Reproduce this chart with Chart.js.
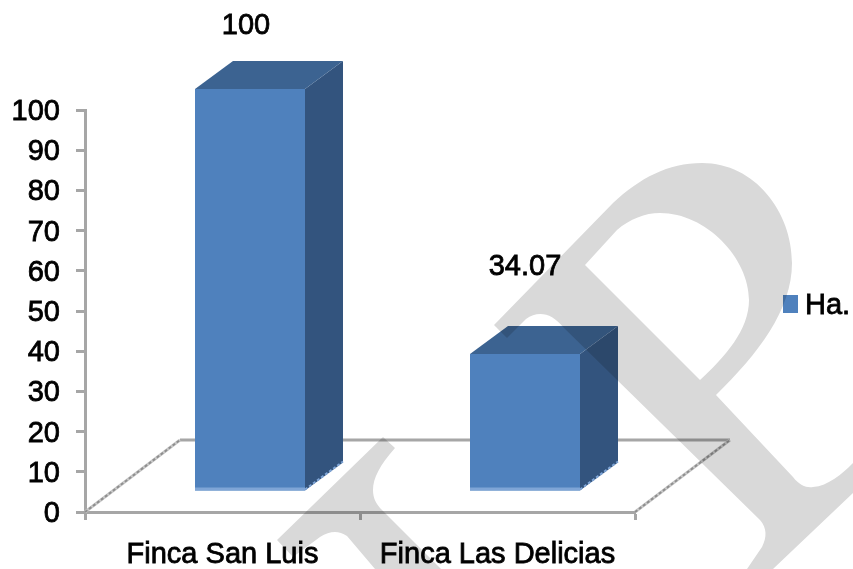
<!DOCTYPE html>
<html>
<head>
<meta charset="utf-8">
<style>
  html, body { margin: 0; padding: 0; background: #fff; }
  #wrap { width: 853px; height: 569px; }
</style>
<script src="https://cdn.jsdelivr.net/npm/chart.js@4"></script>
</head>
<body>
<div id="wrap"><canvas id="chart" width="853" height="569"></canvas></div>
<script>
// ===== data =====
const categories = ['Finca San Luis', 'Finca Las Delicias'];
const seriesName = 'Ha.';
const hectares = [100, 34.07];
const valueLabels = ['100', '34.07'];
const yMin = 0;
const yMax = 100;
const yStep = 10;

// ===== look =====
const FONT = { family: '"Liberation Sans", Arial, sans-serif', size: 29 };
const FONT_CSS = '29px ' + FONT.family;
const TEXT_STROKE = 0.8;   // the original text is a bit heavier than regular
const AXIS = '#a6a6a6';
const FRONT = '#4f81bd';
const TOP = '#3c6391';
const SIDE = '#33547e';
const STRIP = '#7fa5d6';
const SHIFT = { x: 27.5, y: -21 };   // bar front sits inside the floor
const BAR_DEPTH = { x: 38, y: -28 };
const FLOOR_DEPTH = { x: 95, y: -72 };
const LABEL_OFFSET = [{ x: 23.5, y: -84 }, { x: 27.5, y: -108 }];

function heavyText(ctx, text, x, y) {
  ctx.fillStyle = '#000';
  ctx.strokeStyle = '#000';
  ctx.lineWidth = TEXT_STROKE;
  ctx.font = FONT_CSS;
  ctx.textBaseline = 'middle';
  ctx.strokeText(text, x, y);
  ctx.fillText(text, x, y);
}

function drawFloor(chart) {
  const { ctx, chartArea: a } = chart;
  const l = a.left, r = a.right, b = a.bottom;
  ctx.save();
  ctx.lineWidth = 3;
  ctx.strokeStyle = AXIS;
  ctx.beginPath();
  ctx.moveTo(l + FLOOR_DEPTH.x, b + FLOOR_DEPTH.y);
  ctx.lineTo(r + FLOOR_DEPTH.x, b + FLOOR_DEPTH.y);
  ctx.stroke();
  [l, r].forEach(x => {
    ctx.strokeStyle = '#c8c8c8';
    ctx.lineWidth = 3;
    ctx.beginPath();
    ctx.moveTo(x, b);
    ctx.lineTo(x + FLOOR_DEPTH.x, b + FLOOR_DEPTH.y);
    ctx.stroke();
    ctx.strokeStyle = '#8f8f8f';
    ctx.lineWidth = 2;
    ctx.setLineDash([3, 2]);
    ctx.beginPath();
    ctx.moveTo(x, b);
    ctx.lineTo(x + FLOOR_DEPTH.x, b + FLOOR_DEPTH.y);
    ctx.stroke();
    ctx.setLineDash([]);
  });
  ctx.restore();
}

// side + top faces, then the library's bar is drawn shifted on top of them
const box3d = {
  id: 'box3d',
  beforeDatasetsDraw(chart) {
    drawFloor(chart);
  },
  beforeDatasetDraw(chart) {
    const { ctx } = chart;
    ctx.save();
    ctx.translate(SHIFT.x, SHIFT.y);
    chart.getDatasetMeta(0).data.forEach(bar => {
      const left = bar.x - bar.width / 2, right = bar.x + bar.width / 2;
      const dx = BAR_DEPTH.x, dy = BAR_DEPTH.y;
      ctx.fillStyle = SIDE;
      ctx.beginPath();
      ctx.moveTo(right, bar.y);
      ctx.lineTo(right + dx, bar.y + dy);
      ctx.lineTo(right + dx, bar.base + dy);
      ctx.lineTo(right, bar.base);
      ctx.closePath();
      ctx.fill();
      ctx.fillStyle = TOP;
      ctx.beginPath();
      ctx.moveTo(left, bar.y);
      ctx.lineTo(left + dx, bar.y + dy);
      ctx.lineTo(right + dx, bar.y + dy);
      ctx.lineTo(right, bar.y);
      ctx.closePath();
      ctx.fill();
      ctx.strokeStyle = STRIP;
      ctx.lineWidth = 2;
      ctx.setLineDash([3, 2]);
      ctx.beginPath();
      ctx.moveTo(right, bar.base - 1);
      ctx.lineTo(right + dx, bar.base + dy - 1);
      ctx.stroke();
      ctx.setLineDash([]);
    });
  },
  afterDatasetDraw(chart) {
    const { ctx } = chart;
    chart.getDatasetMeta(0).data.forEach(bar => {
      ctx.fillStyle = STRIP;
      ctx.fillRect(bar.x - bar.width / 2, bar.base - 3, bar.width, 3);
    });
    ctx.restore();
    ctx.save();
    ctx.textAlign = 'center';
    chart.getDatasetMeta(0).data.forEach((bar, i) => {
      heavyText(ctx, valueLabels[i], bar.x + LABEL_OFFSET[i].x, bar.y + LABEL_OFFSET[i].y);
    });
    ctx.restore();
  }
};

// legend: swatch and name in the free space right of the floor
const sideLegend = {
  id: 'sideLegend',
  afterDatasetsDraw(chart) {
    const { ctx } = chart;
    const ds = chart.data.datasets[0];
    ctx.save();
    ctx.fillStyle = ds.backgroundColor;
    ctx.fillRect(783, 295, 15, 18);
    ctx.textAlign = 'left';
    heavyText(ctx, ds.label, 805, 306);
    ctx.restore();
  }
};

// grey stamp laid over the whole picture
const stamp = {
  id: 'stamp',
  afterDraw(chart) {
    const { ctx } = chart;
    ctx.save();
    ctx.globalCompositeOperation = 'multiply';
    ctx.fillStyle = '#d9d9d9';
    ctx.beginPath();
    ctx.moveTo(494, 325);
    ctx.lineTo(613, 203);
    ctx.bezierCurveTo(640, 178, 668, 163, 702, 163);
    ctx.bezierCurveTo(755, 163, 792, 212, 792, 263);
    ctx.bezierCurveTo(792, 310, 758, 354, 716, 395);
    ctx.lineTo(793, 477);
    ctx.bezierCurveTo(800, 486, 807, 488, 813, 487);
    ctx.bezierCurveTo(828, 486, 842, 474, 853, 463);
    ctx.lineTo(853, 493);
    ctx.lineTo(773, 569);
    ctx.lineTo(747, 569);
    ctx.lineTo(762, 547);
    ctx.bezierCurveTo(767, 537, 767, 528, 760, 520);
    ctx.lineTo(563, 327);
    ctx.bezierCurveTo(552, 313, 538, 310, 526, 319);
    ctx.lineTo(507, 338);
    ctx.closePath();
    ctx.moveTo(585, 265);
    ctx.lineTo(617, 230);
    ctx.bezierCurveTo(630, 219, 645, 213, 660, 213);
    ctx.bezierCurveTo(706, 213, 749, 258, 749, 300);
    ctx.bezierCurveTo(749, 330, 725, 357, 700, 380);
    ctx.closePath();
    ctx.fill('evenodd');
    ctx.beginPath();
    ctx.moveTo(277, 540);
    ctx.lineTo(383, 437);
    ctx.lineTo(395, 448);
    ctx.bezierCurveTo(380, 465, 373, 478, 373, 490);
    ctx.bezierCurveTo(373, 498, 376, 503, 380, 508);
    ctx.lineTo(441, 569);
    ctx.lineTo(375, 569);
    ctx.lineTo(347, 536);
    ctx.bezierCurveTo(338, 530, 330, 531, 320, 537);
    ctx.lineTo(293, 557);
    ctx.closePath();
    ctx.fill();
    ctx.restore();
  }
};

new Chart(document.getElementById('chart'), {
  type: 'bar',
  data: {
    labels: categories,
    datasets: [{
      label: seriesName,
      data: hectares,
      backgroundColor: FRONT,
      borderWidth: 0,
      categoryPercentage: 0.4,
      barPercentage: 1,
      clip: false
    }]
  },
  options: {
    responsive: false,
    animation: false,
    layout: { padding: { left: 0, right: 218, top: 110, bottom: 0 } },
    plugins: {
      tooltip: { enabled: false },
      legend: { display: false }
    },
    scales: {
      x: {
        afterFit: s => { s.height = 57; },
        grid: { drawOnChartArea: false, drawTicks: true, tickLength: 8, tickWidth: 3, tickColor: AXIS },
        border: { color: AXIS, width: 3 },
        ticks: { color: '#000', font: FONT, padding: 18, maxRotation: 0, textStrokeColor: '#000', textStrokeWidth: TEXT_STROKE }
      },
      y: {
        min: yMin,
        max: yMax,
        afterFit: s => { s.width = 85; },
        grid: { drawOnChartArea: false, drawTicks: true, tickLength: 9, tickWidth: 3, tickColor: AXIS },
        border: { color: AXIS, width: 3 },
        ticks: { stepSize: yStep, color: '#000', font: FONT, padding: 16, labelOffset: 2, textStrokeColor: '#000', textStrokeWidth: TEXT_STROKE }
      }
    }
  },
  plugins: [box3d, sideLegend, stamp]
});
</script>
</body>
</html>
